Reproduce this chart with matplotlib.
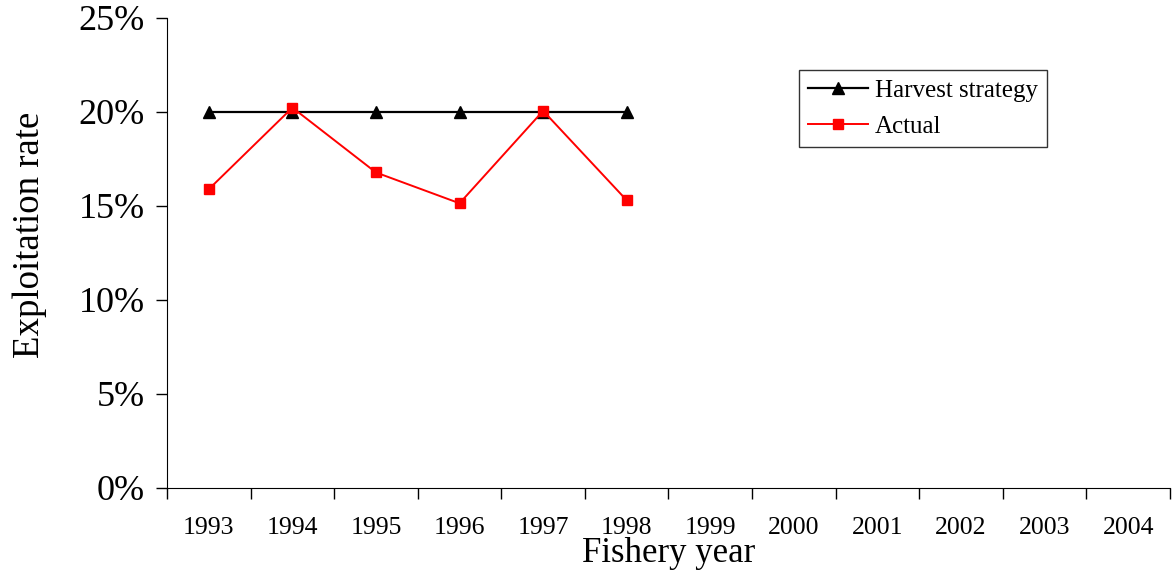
import numpy as np
import matplotlib.pyplot as plt
from matplotlib.ticker import FuncFormatter, FixedLocator

# DATA
years = ["1993", "1994", "1995", "1996", "1997", "1998",
         "1999", "2000", "2001", "2002", "2003", "2004"]
harvest_years = years[:6]
harvest_strategy = [0.20, 0.20, 0.20, 0.20, 0.20, 0.20]
actual = [0.1588, 0.2022, 0.1677, 0.1513, 0.2005, 0.1529]


def main() -> None:
    plt.rcParams["font.family"] = ["Liberation Serif", "DejaVu Serif"]

    fig = plt.figure(figsize=(11.73, 5.75), dpi=100)
    ax = fig.add_axes([0.1424, 0.152, 0.855, 0.817])

    x = np.arange(len(years))
    xh = x[:len(harvest_years)]

    ax.plot(xh, harvest_strategy, c="black", lw=1.6, marker="^", ms=8,
            label="Harvest strategy")
    ax.plot(xh, actual, c="red", lw=1.4, marker="s", ms=7.5,
            label="Actual")

    ax.set_xlim(-0.5, len(years) - 0.5)
    ax.set_ylim(0, 0.25)

    # category labels centred, tick marks on boundaries
    ax.set_xticks(x)
    ax.set_xticklabels(years, fontsize=18.5)
    ax.tick_params(axis="x", which="major", length=0, pad=21)
    ax.xaxis.set_minor_locator(FixedLocator(np.arange(-0.5, len(years), 1)))
    ax.tick_params(axis="x", which="minor", length=8, width=1, direction="out")

    ax.set_yticks(np.arange(0, 0.26, 0.05))
    ax.yaxis.set_major_formatter(FuncFormatter(lambda v, p: f"{v * 100:.0f}%"))
    ax.tick_params(axis="y", labelsize=26, length=8, width=1, pad=8)

    for s in ["top", "right"]:
        ax.spines[s].set_visible(False)

    ax.set_xlabel("Fishery year", fontsize=25, labelpad=-1)
    ax.set_ylabel("Exploitation rate", fontsize=26.5)
    ax.yaxis.set_label_coords(-0.12, 0.537)

    leg = ax.legend(loc="upper left", bbox_to_anchor=(0.630, 0.888),
                    borderaxespad=0, fontsize=18, frameon=True,
                    fancybox=False, edgecolor="black", handlelength=2.4,
                    borderpad=0.35, labelspacing=0.55, handletextpad=0.3)
    leg.get_frame().set_linewidth(1)

    plt.savefig("out.png", dpi=100)


if __name__ == "__main__":
    main()
